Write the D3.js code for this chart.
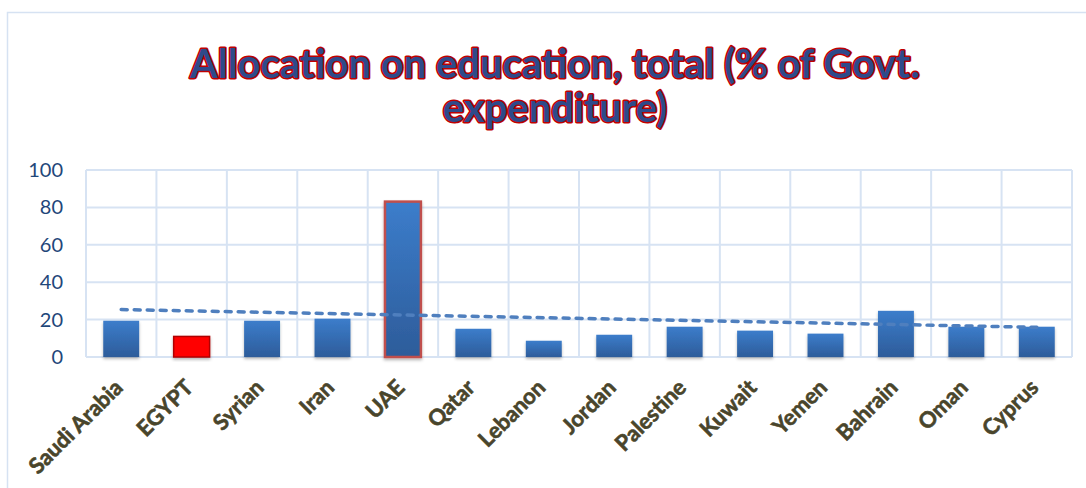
<!DOCTYPE html>
<html>
<head>
<meta charset="utf-8">
<script src="https://cdn.jsdelivr.net/npm/d3@7"></script>
<style>
  html, body { margin: 0; padding: 0; background: #fff; }
  svg { display: block; }
</style>
</head>
<body>
<svg id="chart" width="1086" height="488"></svg>
<script>
// Education allocation, % of government expenditure, by country
const countries = ["Saudi Arabia", "EGYPT", "Syrian", "Iran", "UAE", "Qatar", "Lebanon",
                   "Jordan", "Palestine", "Kuwait", "Yemen", "Bahrain", "Oman", "Cyprus"];
const allocation = [19.4, 11.0, 19.4, 20.5, 83.1, 15.1, 8.7, 11.9, 16.2, 14.1, 12.5, 24.7, 16.2, 16.2];
const yTicks = [0, 20, 40, 60, 80, 100];
const titleLines = ["Allocation on education, total (% of Govt.", "expenditure)"];
const highlightRed = "EGYPT";
const highlightOutline = "UAE";

const svg = d3.select("#chart");
const W = 1086, H = 488;
const plot = { left: 86, right: 1072, top: 170, bottom: 357 };

// chart frame
svg.append("rect")
  .attr("x", 7.5).attr("y", 12.5)
  .attr("width", W + 20).attr("height", H + 20)
  .attr("fill", "none").attr("stroke", "#D6E2F2").attr("stroke-width", 1.5);

const defs = svg.append("defs");
const grad = defs.append("linearGradient").attr("id", "barGrad")
  .attr("x1", 0).attr("y1", 0).attr("x2", 0).attr("y2", 1);
grad.append("stop").attr("offset", "0%").attr("stop-color", "#3C7DCB");
grad.append("stop").attr("offset", "100%").attr("stop-color", "#2D5C9A");

const shadow = defs.append("filter").attr("id", "barShadow")
  .attr("x", "-20%").attr("y", "-10%").attr("width", "140%").attr("height", "130%");
shadow.append("feDropShadow").attr("dx", 0).attr("dy", 2)
  .attr("stdDeviation", 1.6).attr("flood-color", "#000").attr("flood-opacity", 0.28);

const x = d3.scaleBand().domain(countries).range([plot.left, plot.right]).paddingInner(0.49).paddingOuter(0.245);
const xCells = d3.scaleBand().domain(countries).range([plot.left, plot.right]);
const y = d3.scaleLinear().domain([0, 100]).range([plot.bottom, plot.top]);

// gridlines
const grid = svg.append("g").attr("stroke", "#D7E3F3").attr("stroke-width", 2).attr("fill", "none");
grid.selectAll("line.h").data(yTicks).join("line")
  .attr("x1", plot.left).attr("x2", plot.right)
  .attr("y1", d => y(d)).attr("y2", d => y(d));
const vEdges = countries.map(c => xCells(c)).concat([plot.right]);
grid.selectAll("line.v").data(vEdges).join("line")
  .attr("x1", d => d).attr("x2", d => d)
  .attr("y1", plot.top).attr("y2", plot.bottom);

// y axis labels
const yAxis = d3.axisLeft(y).tickValues(yTicks).tickSize(0).tickPadding(0);
const yg = svg.append("g").attr("transform", `translate(${plot.left - 23},0)`).call(yAxis);
yg.select(".domain").remove();
yg.selectAll("text")
  .attr("fill", "#1F477A")
  .style("font-family", "Lato, 'Open Sans', sans-serif")
  .style("font-size", "20px");

// bars
const data = countries.map((c, i) => ({ c, v: allocation[i] }));
svg.append("g").selectAll("rect").data(data).join("rect")
  .attr("x", d => x(d.c))
  .attr("y", d => y(d.v))
  .attr("width", x.bandwidth())
  .attr("height", d => y(0) - y(d.v))
  .attr("fill", d => d.c === highlightRed ? "#FF0000" : "url(#barGrad)")
  .attr("stroke", d => d.c === highlightRed ? "#B00000" : (d.c === highlightOutline ? "#C0504D" : "none"))
  .attr("stroke-width", d => d.c === highlightOutline ? 2.5 : 1.5)
  .attr("filter", "url(#barShadow)");

// linear trend line (least squares over category index)
const n = allocation.length;
const idx = d3.range(1, n + 1);
const mx = d3.mean(idx), my = d3.mean(allocation);
const sxy = d3.sum(idx, (k, i) => (k - mx) * (allocation[i] - my));
const sxx = d3.sum(idx, k => (k - mx) * (k - mx));
const slope = sxy / sxx, icpt = my - slope * mx;
const trend = [countries[0], countries[n - 1]].map((c, j) => {
  const k = j === 0 ? 1 : n;
  return [x(c) + x.bandwidth() / 2, y(icpt + slope * k)];
});
svg.append("path")
  .attr("d", d3.line()(trend))
  .attr("fill", "none")
  .attr("stroke", "#4F7FBE")
  .attr("stroke-width", 3.5)
  .attr("stroke-linecap", "round")
  .attr("stroke-dasharray", "6 7");

// category labels, rotated
const xAxis = d3.axisBottom(x).tickSize(0).tickPadding(0);
const xg = svg.append("g").attr("transform", `translate(0,${plot.bottom})`).call(xAxis);
xg.select(".domain").remove();
xg.selectAll("text")
  .attr("fill", "#49452B")
  .attr("stroke", "#49452B")
  .attr("stroke-width", 0.6)
  .style("font-family", "Lato, 'Open Sans', sans-serif")
  .style("font-weight", "bold")
  .style("font-size", "22px")
  .attr("text-anchor", "end")
  .attr("dy", "0")
  .attr("transform", "translate(3,32) rotate(-45)");

// title
const title = svg.append("g")
  .style("font-family", "Lato, 'Open Sans', sans-serif")
  .style("font-weight", "bold");
const titleY = [78, 122];
titleLines.forEach((t, i) => {
  title.append("text")
    .attr("x", 555).attr("y", titleY[i])
    .attr("text-anchor", "middle")
    .style("font-size", "37px")
    .attr("fill", "#2E4A8A")
    .attr("stroke", "#C00000")
    .attr("stroke-width", 3)
    .attr("stroke-linejoin", "round")
    .style("paint-order", "stroke")
    .text(t);
});
// fit first line to its measured span
const first = title.select("text").node();
const w = first.getComputedTextLength();
const fs = 37 * 730 / w;
title.selectAll("text").style("font-size", fs + "px");
</script>
</body>
</html>
